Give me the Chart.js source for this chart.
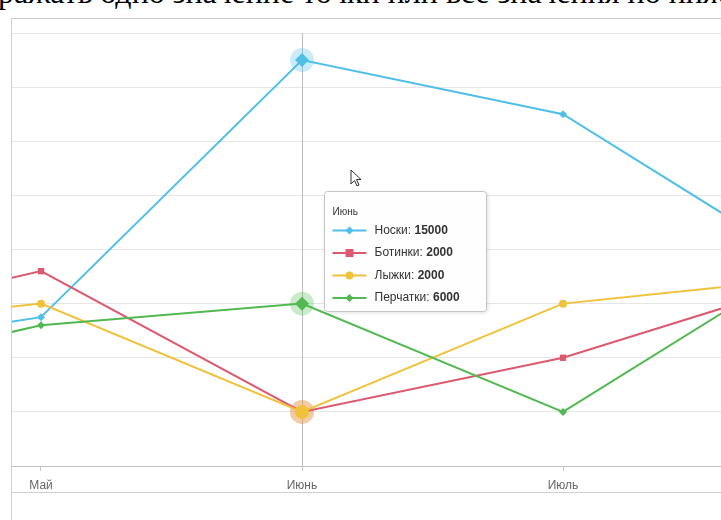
<!DOCTYPE html>
<html>
<head>
<meta charset="utf-8">
<script src="https://cdn.jsdelivr.net/npm/chart.js@4"></script>
<style>
  html, body { margin: 0; padding: 0; background: #fff; overflow: hidden; }
  #wrap { position: relative; width: 721px; height: 520px; overflow: hidden; }
  #caption { position: absolute; left: 0; top: -24px; white-space: nowrap;
    font-family: "Liberation Serif", "DejaVu Serif", serif; font-size: 32px; color: #000; line-height: 32px; }
  canvas { position: absolute; left: 0; top: 0; }
</style>
</head>
<body>
<div id="wrap">
  <div id="caption">отображать одно значение точки или все значения по нижней оси</div>
  <canvas id="c" width="721" height="520"></canvas>
</div>
<script>
// Months along the bottom axis
const categories = ['Апрель', 'Май', 'Июнь', 'Июль', 'Август'];
// Series values per month
const noski    = [4000, 5500, 15000, 13000, 7000];
const botinki  = [5000, 7200, 2000, 4000, 7000];
const lyzhki   = [5000, 6000, 2000, 6000, 7000];
const perchatki = [3000, 5200, 6000, 2000, 8000];
const seriesNames = ['Носки', 'Ботинки', 'Лыжки', 'Перчатки'];
// Y axis range and step
const yMin = 0, yMax = 16000, yStep = 2000;
// Month currently hovered (tooltip + crosshair)
const hoverMonth = 'Июнь';
const hoverIndex = categories.indexOf(hoverMonth);

// scroll the caption line so that it starts mid-word
(function () {
  const cap = document.getElementById('caption');
  const m = document.createElement('canvas').getContext('2d');
  m.font = '32px "Liberation Serif", "DejaVu Serif", serif';
  cap.style.left = (-m.measureText('отоб').width - 2) + 'px';
})();

const colors = ['#4fbfe8', '#dc5a70', '#f0c23a', '#52b852'];
const shapes = ['rectRot', 'rect', 'circle', 'rectRot'];
const values = [noski, botinki, lyzhki, perchatki];

const datasets = values.map((arr, s) => ({
  label: seriesNames[s],
  data: arr.map((v, i) => ({ x: i, y: v })),
  borderColor: colors[s],
  backgroundColor: colors[s],
  borderWidth: 2,
  pointStyle: shapes[s],
  pointRadius: (ctx) => {
    const big = ctx.dataIndex === hoverIndex;
    if (shapes[s] === 'rect') return big ? 6 : 4.5;
    return big ? 7 : 4;
  },
  pointBorderWidth: 0,
  tension: 0,
  order: 4 - s
}));

// Container frame, crosshair and hover halos
const framePlugin = {
  id: 'frame',
  beforeDatasetsDraw(chart) {
    const { ctx, chartArea, scales } = chart;
    const x = scales.x.getPixelForValue(hoverIndex);
    ctx.save();
    ctx.strokeStyle = '#bdbdbd';
    ctx.lineWidth = 1;
    ctx.beginPath();
    ctx.moveTo(Math.round(x) + 0.5, chartArea.top);
    ctx.lineTo(Math.round(x) + 0.5, chartArea.bottom);
    ctx.stroke();
    // halos under hovered markers
    values.forEach((arr, s) => {
      const y = scales.y.getPixelForValue(arr[hoverIndex]);
      ctx.fillStyle = colors[s];
      ctx.globalAlpha = 0.3;
      ctx.beginPath();
      ctx.arc(x, y, 12, 0, Math.PI * 2);
      ctx.fill();
    });
    ctx.restore();
  },
  afterDraw(chart) {
    const { ctx, chartArea, scales, width, height } = chart;
    ctx.save();
    ctx.strokeStyle = '#cfcfcf';
    ctx.lineWidth = 1;
    ctx.beginPath();
    ctx.moveTo(chartArea.left, 18.5); ctx.lineTo(width, 18.5);
    ctx.moveTo(chartArea.left + 0.5, 18); ctx.lineTo(chartArea.left + 0.5, height);
    ctx.moveTo(chartArea.left, 492.5); ctx.lineTo(width, 492.5);
    ctx.stroke();

    // shared tooltip box
    const xh = scales.x.getPixelForValue(hoverIndex);
    const bx = Math.round(xh) + 22.5, by = 191.5, bw = 162, bh = 120;
    ctx.shadowColor = 'rgba(0,0,0,0.15)';
    ctx.shadowBlur = 4; ctx.shadowOffsetX = 1; ctx.shadowOffsetY = 1;
    ctx.fillStyle = 'rgba(255,255,255,0.96)';
    ctx.beginPath();
    ctx.roundRect(bx, by, bw, bh, 3);
    ctx.fill();
    ctx.shadowColor = 'transparent';
    ctx.strokeStyle = '#c4c4c4';
    ctx.stroke();

    ctx.textBaseline = 'middle';
    ctx.fillStyle = '#333';
    ctx.font = '10px "Liberation Sans", Arial, sans-serif';
    ctx.fillText(categories[hoverIndex], bx + 8, by + 21);
    values.forEach((arr, s) => {
      const ry = by + 39 + s * 22.5;
      const lx0 = bx + 8, lx1 = bx + 42, mx = (lx0 + lx1) / 2;
      ctx.strokeStyle = colors[s];
      ctx.lineWidth = 2;
      ctx.beginPath(); ctx.moveTo(lx0, ry); ctx.lineTo(lx1, ry); ctx.stroke();
      ctx.fillStyle = colors[s];
      ctx.beginPath();
      if (shapes[s] === 'rectRot') {
        ctx.moveTo(mx, ry - 4); ctx.lineTo(mx + 4, ry); ctx.lineTo(mx, ry + 4); ctx.lineTo(mx - 4, ry);
      } else if (shapes[s] === 'rect') {
        ctx.rect(mx - 4, ry - 4, 8, 8);
      } else {
        ctx.arc(mx, ry, 4, 0, Math.PI * 2);
      }
      ctx.fill();
      ctx.fillStyle = '#333';
      ctx.font = '12px "Liberation Sans", Arial, sans-serif';
      const lbl = seriesNames[s] + ': ';
      ctx.fillText(lbl, bx + 50, ry);
      const w = ctx.measureText(lbl).width;
      ctx.font = 'bold 12px "Liberation Sans", Arial, sans-serif';
      ctx.fillText(String(arr[hoverIndex]), bx + 50 + w, ry);
    });

    // mouse pointer
    const px = 351, py = 170;
    ctx.fillStyle = '#fff';
    ctx.strokeStyle = '#333';
    ctx.lineWidth = 1;
    ctx.beginPath();
    ctx.moveTo(px, py);
    ctx.lineTo(px, py + 14);
    ctx.lineTo(px + 3.5, py + 10.5);
    ctx.lineTo(px + 6, py + 16);
    ctx.lineTo(px + 8, py + 15);
    ctx.lineTo(px + 5.5, py + 9.5);
    ctx.lineTo(px + 10, py + 9.5);
    ctx.closePath();
    ctx.fill();
    ctx.stroke();
    ctx.restore();
  }
};

new Chart(document.getElementById('c'), {
  type: 'line',
  data: { datasets },
  options: {
    responsive: false,
    animation: false,
    events: [],
    layout: { autoPadding: false, padding: { left: 11, top: 33, right: 0, bottom: 0 } },
    plugins: { legend: { display: false }, tooltip: { enabled: false } },
    scales: {
      x: {
        type: 'linear',
        min: hoverIndex - 1 - 30 / 261,
        max: hoverIndex + 1 + 158 / 261,
        afterFit: (s) => { s.height = 54; s.paddingLeft = 0; s.paddingRight = 0; },
        border: { display: true, color: '#c0c0c0', width: 1 },
        grid: { display: true, drawOnChartArea: false, tickLength: 5, color: '#c8c8c8' },
        ticks: {
          stepSize: 1,
          includeBounds: false,
          autoSkip: false,
          maxRotation: 0,
          padding: 7,
          color: '#666',
          font: { family: '"Liberation Sans", Arial, sans-serif', size: 12 },
          callback: (v) => Number.isInteger(v) ? categories[v] : ''
        }
      },
      y: {
        min: yMin, max: yMax,
        afterFit: (s) => { s.width = 0; s.paddingTop = 0; s.paddingBottom = 0; },
        border: { display: false },
        grid: { color: '#e6e6e6', drawTicks: false },
        ticks: { stepSize: yStep, display: false }
      }
    }
  },
  plugins: [framePlugin]
});
</script>
</body>
</html>
